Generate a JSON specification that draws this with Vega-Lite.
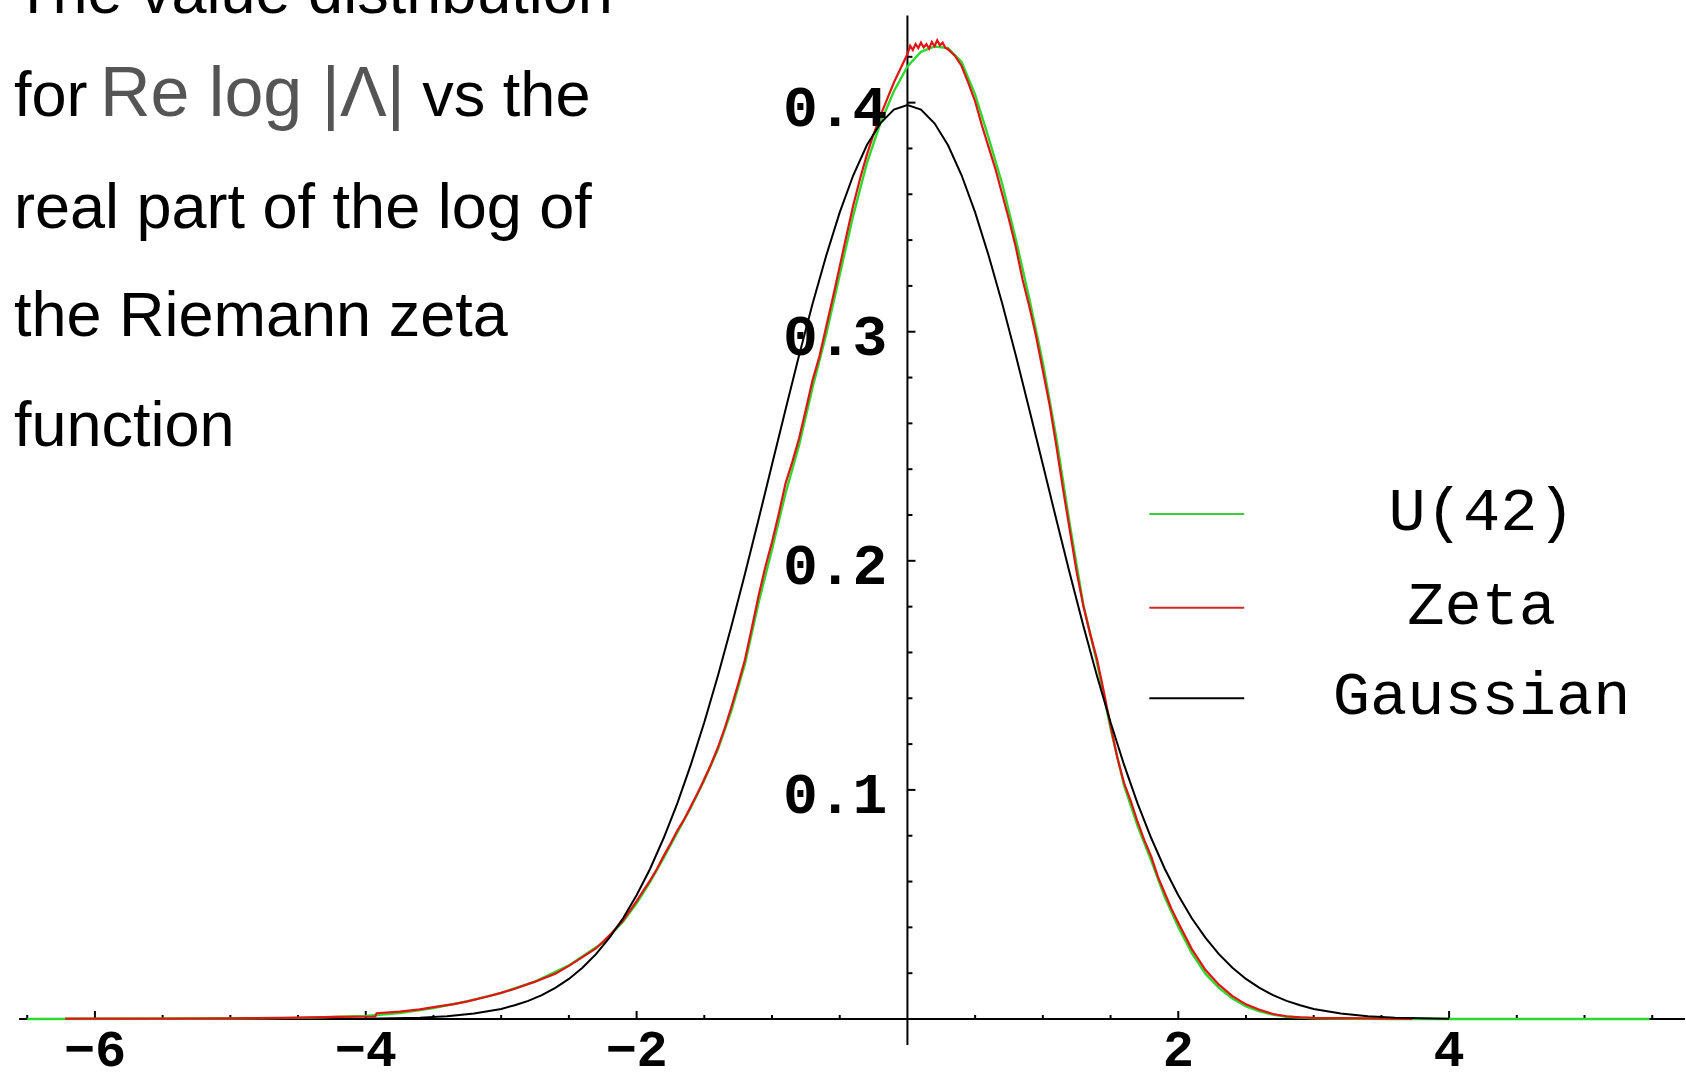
{
  "$schema": "https://vega.github.io/schema/vega-lite/v6.json",
  "width": 1686,
  "height": 1082,
  "autosize": {"type": "fit", "contains": "padding"},
  "padding": 0,
  "background": "#ffffff",
  "config": {"view": {"stroke": null}},
  "datasets": {
    "u42": [
      {"x": -6.5, "d": 0.0}, {"x": -5.5, "d": 0.0001}, {"x": -5.0, "d": 0.0002}, {"x": -4.5, "d": 0.0005},
      {"x": -4.0, "d": 0.0013}, {"x": -3.75, "d": 0.0026}, {"x": -3.5, "d": 0.0048}, {"x": -3.25, "d": 0.0077},
      {"x": -3.0, "d": 0.0114}, {"x": -2.75, "d": 0.0163}, {"x": -2.5, "d": 0.0234}, {"x": -2.25, "d": 0.0333},
      {"x": -2.1, "d": 0.0425}, {"x": -2.0, "d": 0.0505}, {"x": -1.9, "d": 0.0598}, {"x": -1.8, "d": 0.0703},
      {"x": -1.7, "d": 0.0813}, {"x": -1.6, "d": 0.0922}, {"x": -1.5, "d": 0.1042}, {"x": -1.4, "d": 0.1176},
      {"x": -1.3, "d": 0.1345}, {"x": -1.2, "d": 0.155}, {"x": -1.1, "d": 0.1815}, {"x": -1.0, "d": 0.205},
      {"x": -0.9, "d": 0.2295}, {"x": -0.8, "d": 0.2505}, {"x": -0.7, "d": 0.2758}, {"x": -0.6, "d": 0.2988},
      {"x": -0.5, "d": 0.3248}, {"x": -0.4, "d": 0.3508}, {"x": -0.3, "d": 0.3735}, {"x": -0.2, "d": 0.391},
      {"x": -0.1, "d": 0.405}, {"x": 0.0, "d": 0.4158}, {"x": 0.1, "d": 0.4222}, {"x": 0.2, "d": 0.4245},
      {"x": 0.3, "d": 0.4238}, {"x": 0.4, "d": 0.4178}, {"x": 0.5, "d": 0.4035}, {"x": 0.6, "d": 0.3845},
      {"x": 0.7, "d": 0.3645}, {"x": 0.8, "d": 0.3405}, {"x": 0.9, "d": 0.3145}, {"x": 1.0, "d": 0.2865},
      {"x": 1.1, "d": 0.2535}, {"x": 1.2, "d": 0.2155}, {"x": 1.3, "d": 0.1805}, {"x": 1.4, "d": 0.1555},
      {"x": 1.5, "d": 0.1268}, {"x": 1.6, "d": 0.1018}, {"x": 1.7, "d": 0.0842}, {"x": 1.8, "d": 0.0692},
      {"x": 1.9, "d": 0.0532}, {"x": 2.0, "d": 0.0402}, {"x": 2.1, "d": 0.0288}, {"x": 2.2, "d": 0.0198},
      {"x": 2.3, "d": 0.0136}, {"x": 2.4, "d": 0.0089}, {"x": 2.5, "d": 0.0055}, {"x": 2.6, "d": 0.0033},
      {"x": 2.7, "d": 0.0019}, {"x": 2.8, "d": 0.001}, {"x": 3.0, "d": 0.0003}, {"x": 3.3, "d": 0.0001},
      {"x": 3.6, "d": 0.0}, {"x": 5.48, "d": 0.0}
    ],
    "zeta": [
      {"x": -6.22, "d": 0.0002}, {"x": -5.5, "d": 0.0002}, {"x": -5.0, "d": 0.0003}, {"x": -4.6, "d": 0.0005},
      {"x": -4.39, "d": 0.0007}, {"x": -4.2, "d": 0.0009}, {"x": -3.93, "d": 0.0011}, {"x": -3.92, "d": 0.0025},
      {"x": -3.75, "d": 0.0032}, {"x": -3.6, "d": 0.0042}, {"x": -3.5, "d": 0.0052}, {"x": -3.35, "d": 0.0065},
      {"x": -3.25, "d": 0.0077}, {"x": -3.1, "d": 0.0098}, {"x": -3.0, "d": 0.0114}, {"x": -2.9, "d": 0.0132},
      {"x": -2.75, "d": 0.0163}, {"x": -2.6, "d": 0.0198}, {"x": -2.5, "d": 0.0232}, {"x": -2.4, "d": 0.027},
      {"x": -2.3, "d": 0.0308}, {"x": -2.2, "d": 0.0365}, {"x": -2.1, "d": 0.043}, {"x": -2.0, "d": 0.0515},
      {"x": -1.95, "d": 0.056}, {"x": -1.9, "d": 0.0605}, {"x": -1.85, "d": 0.0655}, {"x": -1.8, "d": 0.0712},
      {"x": -1.75, "d": 0.0765}, {"x": -1.7, "d": 0.0822}, {"x": -1.65, "d": 0.087}, {"x": -1.6, "d": 0.0928},
      {"x": -1.55, "d": 0.0985}, {"x": -1.5, "d": 0.1048}, {"x": -1.45, "d": 0.1112}, {"x": -1.4, "d": 0.1185},
      {"x": -1.35, "d": 0.1268}, {"x": -1.3, "d": 0.1362}, {"x": -1.25, "d": 0.1462}, {"x": -1.2, "d": 0.1568},
      {"x": -1.15, "d": 0.1705}, {"x": -1.1, "d": 0.1845}, {"x": -1.05, "d": 0.1972}, {"x": -1.0, "d": 0.2082},
      {"x": -0.95, "d": 0.2205}, {"x": -0.9, "d": 0.2338}, {"x": -0.85, "d": 0.2432}, {"x": -0.8, "d": 0.2535},
      {"x": -0.75, "d": 0.266}, {"x": -0.7, "d": 0.279}, {"x": -0.65, "d": 0.2892}, {"x": -0.6, "d": 0.3022},
      {"x": -0.55, "d": 0.315}, {"x": -0.5, "d": 0.3285}, {"x": -0.45, "d": 0.342}, {"x": -0.4, "d": 0.3552},
      {"x": -0.35, "d": 0.3668}, {"x": -0.3, "d": 0.3772}, {"x": -0.25, "d": 0.3862}, {"x": -0.2, "d": 0.3942},
      {"x": -0.15, "d": 0.4015}, {"x": -0.1, "d": 0.4088}, {"x": -0.05, "d": 0.415}, {"x": 0.0, "d": 0.4212},
      {"x": 0.02, "d": 0.4248}, {"x": 0.04, "d": 0.423}, {"x": 0.06, "d": 0.4256}, {"x": 0.08, "d": 0.4238},
      {"x": 0.1, "d": 0.4262}, {"x": 0.12, "d": 0.4241}, {"x": 0.14, "d": 0.4255}, {"x": 0.16, "d": 0.4236},
      {"x": 0.18, "d": 0.4265}, {"x": 0.2, "d": 0.4246}, {"x": 0.22, "d": 0.4272}, {"x": 0.24, "d": 0.425},
      {"x": 0.26, "d": 0.4262}, {"x": 0.28, "d": 0.424}, {"x": 0.3, "d": 0.4232}, {"x": 0.35, "d": 0.4205},
      {"x": 0.4, "d": 0.416}, {"x": 0.45, "d": 0.4085}, {"x": 0.5, "d": 0.4005}, {"x": 0.55, "d": 0.39},
      {"x": 0.6, "d": 0.3805}, {"x": 0.65, "d": 0.371}, {"x": 0.7, "d": 0.36}, {"x": 0.75, "d": 0.349},
      {"x": 0.8, "d": 0.337}, {"x": 0.85, "d": 0.3228}, {"x": 0.9, "d": 0.311}, {"x": 0.95, "d": 0.298},
      {"x": 1.0, "d": 0.283}, {"x": 1.05, "d": 0.268}, {"x": 1.1, "d": 0.25}, {"x": 1.15, "d": 0.231},
      {"x": 1.2, "d": 0.213}, {"x": 1.25, "d": 0.195}, {"x": 1.3, "d": 0.18}, {"x": 1.35, "d": 0.168},
      {"x": 1.4, "d": 0.157}, {"x": 1.45, "d": 0.143}, {"x": 1.5, "d": 0.128}, {"x": 1.55, "d": 0.114},
      {"x": 1.6, "d": 0.103}, {"x": 1.65, "d": 0.095}, {"x": 1.7, "d": 0.086}, {"x": 1.75, "d": 0.078},
      {"x": 1.8, "d": 0.071}, {"x": 1.85, "d": 0.062}, {"x": 1.9, "d": 0.055}, {"x": 1.95, "d": 0.048},
      {"x": 2.0, "d": 0.042}, {"x": 2.1, "d": 0.0305}, {"x": 2.2, "d": 0.0215}, {"x": 2.3, "d": 0.015},
      {"x": 2.4, "d": 0.01}, {"x": 2.5, "d": 0.0064}, {"x": 2.6, "d": 0.004}, {"x": 2.7, "d": 0.0022},
      {"x": 2.8, "d": 0.0012}, {"x": 2.9, "d": 0.0007}, {"x": 3.0, "d": 0.0005}, {"x": 3.2, "d": 0.0004},
      {"x": 3.4, "d": 0.0003}, {"x": 3.73, "d": 0.0}
    ],
    "gaussian": [
      {"x": -4.0, "d": 0.0001}, {"x": -3.8, "d": 0.0003}, {"x": -3.6, "d": 0.0006}, {"x": -3.4, "d": 0.0012},
      {"x": -3.2, "d": 0.0024}, {"x": -3.0, "d": 0.0044}, {"x": -2.9, "d": 0.006}, {"x": -2.8, "d": 0.0079},
      {"x": -2.7, "d": 0.0104}, {"x": -2.6, "d": 0.0136}, {"x": -2.5, "d": 0.0175}, {"x": -2.4, "d": 0.0224},
      {"x": -2.3, "d": 0.0283}, {"x": -2.2, "d": 0.0355}, {"x": -2.1, "d": 0.044}, {"x": -2.0, "d": 0.054},
      {"x": -1.9, "d": 0.0656}, {"x": -1.8, "d": 0.079}, {"x": -1.7, "d": 0.094}, {"x": -1.6, "d": 0.1109},
      {"x": -1.5, "d": 0.1295}, {"x": -1.4, "d": 0.1497}, {"x": -1.3, "d": 0.1714}, {"x": -1.2, "d": 0.1942},
      {"x": -1.1, "d": 0.2179}, {"x": -1.0, "d": 0.242}, {"x": -0.9, "d": 0.2661}, {"x": -0.8, "d": 0.2897},
      {"x": -0.7, "d": 0.3123}, {"x": -0.6, "d": 0.3332}, {"x": -0.5, "d": 0.3521}, {"x": -0.4, "d": 0.3683},
      {"x": -0.3, "d": 0.3814}, {"x": -0.2, "d": 0.391}, {"x": -0.1, "d": 0.397}, {"x": 0.0, "d": 0.3989},
      {"x": 0.1, "d": 0.397}, {"x": 0.2, "d": 0.391}, {"x": 0.3, "d": 0.3814}, {"x": 0.4, "d": 0.3683},
      {"x": 0.5, "d": 0.3521}, {"x": 0.6, "d": 0.3332}, {"x": 0.7, "d": 0.3123}, {"x": 0.8, "d": 0.2897},
      {"x": 0.9, "d": 0.2661}, {"x": 1.0, "d": 0.242}, {"x": 1.1, "d": 0.2179}, {"x": 1.2, "d": 0.1942},
      {"x": 1.3, "d": 0.1714}, {"x": 1.4, "d": 0.1497}, {"x": 1.5, "d": 0.1295}, {"x": 1.6, "d": 0.1109},
      {"x": 1.7, "d": 0.094}, {"x": 1.8, "d": 0.079}, {"x": 1.9, "d": 0.0656}, {"x": 2.0, "d": 0.054},
      {"x": 2.1, "d": 0.044}, {"x": 2.2, "d": 0.0355}, {"x": 2.3, "d": 0.0283}, {"x": 2.4, "d": 0.0224},
      {"x": 2.5, "d": 0.0175}, {"x": 2.6, "d": 0.0136}, {"x": 2.7, "d": 0.0104}, {"x": 2.8, "d": 0.0079},
      {"x": 2.9, "d": 0.006}, {"x": 3.0, "d": 0.0044}, {"x": 3.2, "d": 0.0024}, {"x": 3.4, "d": 0.0012},
      {"x": 3.6, "d": 0.0006}, {"x": 3.8, "d": 0.0003}, {"x": 4.0, "d": 0.0001}
    ],
    "xMajor": [
      {"x": -6, "label": "−6"}, {"x": -4, "label": "−4"}, {"x": -2, "label": "−2"},
      {"x": 2, "label": "2"}, {"x": 4, "label": "4"}
    ],
    "xMinor": [
      {"x": -6.5}, {"x": -5.5}, {"x": -5}, {"x": -4.5}, {"x": -3.5}, {"x": -3}, {"x": -2.5},
      {"x": -1.5}, {"x": -1}, {"x": -0.5}, {"x": 0.5}, {"x": 1}, {"x": 1.5}, {"x": 2.5},
      {"x": 3}, {"x": 3.5}, {"x": 4.5}, {"x": 5}, {"x": 5.5}
    ],
    "yMajor": [
      {"y": 0.1, "label": "0.1"}, {"y": 0.2, "label": "0.2"}, {"y": 0.3, "label": "0.3"}, {"y": 0.4, "label": "0.4"}
    ],
    "yMinor": [
      {"y": 0.02}, {"y": 0.04}, {"y": 0.06}, {"y": 0.08}, {"y": 0.12}, {"y": 0.14}, {"y": 0.16}, {"y": 0.18},
      {"y": 0.22}, {"y": 0.24}, {"y": 0.26}, {"y": 0.28}, {"y": 0.32}, {"y": 0.34}, {"y": 0.36}, {"y": 0.38},
      {"y": 0.42}
    ],
    "key": [
      {"series": "U(42)", "y": 0.2204},
      {"series": "Zeta", "y": 0.1795},
      {"series": "Gaussian", "y": 0.14}
    ],
    "caption": [
      {"x": -6.598, "y": 0.4391, "text": "The value distribution"},
      {"x": -6.598, "y": 0.3941, "text": "for"},
      {"x": -3.582, "y": 0.3941, "text": "vs the"},
      {"x": -6.598, "y": 0.3453, "text": "real part of the log of"},
      {"x": -6.598, "y": 0.2983, "text": "the Riemann zeta"},
      {"x": -6.598, "y": 0.2501, "text": "function"}
    ],
    "captionMath": [
      {"x": -5.963, "y": 0.3941, "text": "Re log |Λ|"}
    ]
  },
  "layer": [
    {
      "data": {"values": [{}]},
      "mark": {"type": "rule", "color": "#000000", "strokeWidth": 2},
      "encoding": {
        "x": {"datum": -6.56, "type": "quantitative", "scale": {"domain": [-6.701, 5.742], "nice": false, "zero": false}, "axis": null},
        "x2": {"datum": 5.742},
        "y": {"datum": 0, "type": "quantitative", "scale": {"domain": [-0.0275, 0.4448], "nice": false, "zero": false}, "axis": null}
      }
    },
    {
      "data": {"values": [{}]},
      "mark": {"type": "rule", "color": "#000000", "strokeWidth": 2},
      "encoding": {
        "x": {"datum": 0, "type": "quantitative", "scale": {"domain": [-6.701, 5.742], "nice": false, "zero": false}, "axis": null},
        "y": {"datum": -0.0113, "type": "quantitative", "scale": {"domain": [-0.0275, 0.4448], "nice": false, "zero": false}, "axis": null},
        "y2": {"datum": 0.438}
      }
    },
    {
      "data": {"name": "xMajor"},
      "mark": {"type": "tick", "orient": "vertical", "size": 8, "thickness": 2, "yOffset": -4, "color": "#000000", "opacity": 1},
      "encoding": {
        "x": {"field": "x", "type": "quantitative", "scale": {"domain": [-6.701, 5.742], "nice": false, "zero": false}, "axis": null},
        "y": {"datum": 0, "type": "quantitative", "scale": {"domain": [-0.0275, 0.4448], "nice": false, "zero": false}, "axis": null}
      }
    },
    {
      "data": {"name": "xMinor"},
      "mark": {"type": "tick", "orient": "vertical", "size": 4, "thickness": 2, "yOffset": -2, "color": "#000000", "opacity": 1},
      "encoding": {
        "x": {"field": "x", "type": "quantitative", "scale": {"domain": [-6.701, 5.742], "nice": false, "zero": false}, "axis": null},
        "y": {"datum": 0, "type": "quantitative", "scale": {"domain": [-0.0275, 0.4448], "nice": false, "zero": false}, "axis": null}
      }
    },
    {
      "data": {"name": "yMajor"},
      "mark": {"type": "tick", "orient": "horizontal", "size": 8, "thickness": 2, "xOffset": 4, "color": "#000000", "opacity": 1},
      "encoding": {
        "x": {"datum": 0, "type": "quantitative", "scale": {"domain": [-6.701, 5.742], "nice": false, "zero": false}, "axis": null},
        "y": {"field": "y", "type": "quantitative", "scale": {"domain": [-0.0275, 0.4448], "nice": false, "zero": false}, "axis": null}
      }
    },
    {
      "data": {"name": "yMinor"},
      "mark": {"type": "tick", "orient": "horizontal", "size": 5, "thickness": 2, "xOffset": 2.5, "color": "#000000", "opacity": 1},
      "encoding": {
        "x": {"datum": 0, "type": "quantitative", "scale": {"domain": [-6.701, 5.742], "nice": false, "zero": false}, "axis": null},
        "y": {"field": "y", "type": "quantitative", "scale": {"domain": [-0.0275, 0.4448], "nice": false, "zero": false}, "axis": null}
      }
    },
    {
      "data": {"name": "u42"},
      "mark": {"type": "line", "color": "#2fd82f", "strokeWidth": 2.4, "clip": true},
      "encoding": {
        "x": {"field": "x", "type": "quantitative", "scale": {"domain": [-6.701, 5.742], "nice": false, "zero": false}, "axis": null},
        "y": {"field": "d", "type": "quantitative", "scale": {"domain": [-0.0275, 0.4448], "nice": false, "zero": false}, "axis": null}
      }
    },
    {
      "data": {"name": "zeta"},
      "mark": {"type": "line", "color": "#e01414", "strokeWidth": 2.2, "clip": true},
      "encoding": {
        "x": {"field": "x", "type": "quantitative", "scale": {"domain": [-6.701, 5.742], "nice": false, "zero": false}, "axis": null},
        "y": {"field": "d", "type": "quantitative", "scale": {"domain": [-0.0275, 0.4448], "nice": false, "zero": false}, "axis": null}
      }
    },
    {
      "data": {"name": "gaussian"},
      "mark": {"type": "line", "color": "#000000", "strokeWidth": 2, "clip": true},
      "encoding": {
        "x": {"field": "x", "type": "quantitative", "scale": {"domain": [-6.701, 5.742], "nice": false, "zero": false}, "axis": null},
        "y": {"field": "d", "type": "quantitative", "scale": {"domain": [-0.0275, 0.4448], "nice": false, "zero": false}, "axis": null}
      }
    },
    {
      "data": {"name": "xMajor"},
      "mark": {"type": "text", "font": "Liberation Mono", "fontSize": 52, "fontWeight": "bold", "color": "#000000", "align": "center", "baseline": "alphabetic", "dy": 47},
      "encoding": {
        "x": {"field": "x", "type": "quantitative", "scale": {"domain": [-6.701, 5.742], "nice": false, "zero": false}, "axis": null},
        "y": {"datum": 0, "type": "quantitative", "scale": {"domain": [-0.0275, 0.4448], "nice": false, "zero": false}, "axis": null},
        "text": {"field": "label"}
      }
    },
    {
      "data": {"name": "yMajor"},
      "mark": {"type": "text", "font": "Liberation Mono", "fontSize": 58, "fontWeight": "bold", "color": "#000000", "align": "right", "baseline": "alphabetic", "dx": -20, "dy": 23},
      "encoding": {
        "x": {"datum": 0, "type": "quantitative", "scale": {"domain": [-6.701, 5.742], "nice": false, "zero": false}, "axis": null},
        "y": {"field": "y", "type": "quantitative", "scale": {"domain": [-0.0275, 0.4448], "nice": false, "zero": false}, "axis": null},
        "text": {"field": "label"}
      }
    },
    {
      "data": {"name": "key"},
      "mark": {"type": "rule", "strokeWidth": 2},
      "encoding": {
        "x": {"datum": 1.786, "type": "quantitative", "scale": {"domain": [-6.701, 5.742], "nice": false, "zero": false}, "axis": null},
        "x2": {"datum": 2.487},
        "y": {"field": "y", "type": "quantitative", "scale": {"domain": [-0.0275, 0.4448], "nice": false, "zero": false}, "axis": null},
        "color": {"field": "series", "type": "nominal", "scale": {"domain": ["U(42)", "Zeta", "Gaussian"], "range": ["#3ccf3c", "#d22a2a", "#000000"]}, "legend": null}
      }
    },
    {
      "data": {"name": "key"},
      "mark": {"type": "text", "font": "Liberation Mono", "fontSize": 62, "color": "#000000", "align": "center", "baseline": "middle", "dy": -3},
      "encoding": {
        "x": {"datum": 4.24, "type": "quantitative", "scale": {"domain": [-6.701, 5.742], "nice": false, "zero": false}, "axis": null},
        "y": {"field": "y", "type": "quantitative", "scale": {"domain": [-0.0275, 0.4448], "nice": false, "zero": false}, "axis": null},
        "text": {"field": "series"}
      }
    },
    {
      "data": {"name": "caption"},
      "mark": {"type": "text", "font": "Liberation Sans", "fontSize": 63, "color": "#000000", "align": "left", "baseline": "alphabetic", "clip": true},
      "encoding": {
        "x": {"field": "x", "type": "quantitative", "scale": {"domain": [-6.701, 5.742], "nice": false, "zero": false}, "axis": null},
        "y": {"field": "y", "type": "quantitative", "scale": {"domain": [-0.0275, 0.4448], "nice": false, "zero": false}, "axis": null},
        "text": {"field": "text"}
      }
    },
    {
      "data": {"name": "captionMath"},
      "mark": {"type": "text", "font": "Liberation Sans", "fontSize": 70, "color": "#555555", "align": "left", "baseline": "alphabetic", "clip": true},
      "encoding": {
        "x": {"field": "x", "type": "quantitative", "scale": {"domain": [-6.701, 5.742], "nice": false, "zero": false}, "axis": null},
        "y": {"field": "y", "type": "quantitative", "scale": {"domain": [-0.0275, 0.4448], "nice": false, "zero": false}, "axis": null},
        "text": {"field": "text"}
      }
    }
  ]
}
